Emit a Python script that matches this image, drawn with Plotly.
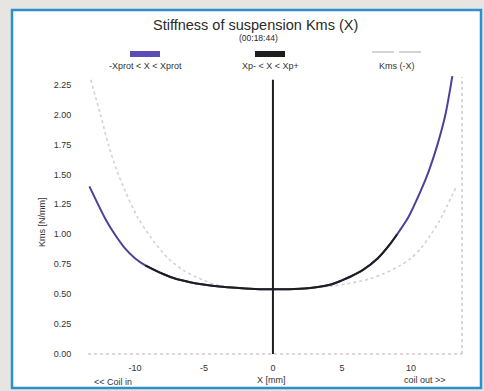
import plotly.graph_objects as go

# Stiffness of suspension Kms(X), measured over the full excursion range
x_mm = [-13.3, -12.1, -11.4, -10.7, -10.0, -9.25, -8.0, -7.1, -6.0, -5.3, -4.4, -2.0, 0.0,
        2.0, 3.0, 4.2, 5.0, 5.6, 6.5, 7.6, 8.5, 9.0, 9.8, 10.7, 11.3, 11.9, 12.5, 13.0]
kms = [1.40, 1.12, 0.99, 0.88, 0.80, 0.74, 0.67, 0.63, 0.60, 0.585, 0.57, 0.548, 0.54,
       0.545, 0.555, 0.58, 0.615, 0.645, 0.70, 0.80, 0.92, 1.00, 1.14, 1.36, 1.53, 1.74, 2.00, 2.32]

# Inner working range Xp- < X < Xp+
x_inner = [-9.25, -8.0, -7.1, -6.0, -5.3, -4.4, -2.0, 0.0, 2.0, 3.0, 4.2, 5.0, 5.6, 6.5, 7.6, 8.5, 9.0]
kms_inner = [0.74, 0.67, 0.63, 0.60, 0.585, 0.57, 0.548, 0.54, 0.545, 0.555, 0.58, 0.615, 0.645,
             0.70, 0.80, 0.92, 1.00]

# Kms(-X): stiffness with the excursion mirrored
x_mirror = [-13.2, -12.5, -11.9, -11.3, -10.7, -9.8, -9.0, -8.5, -7.6, -6.5, -5.6, -5.0, -4.2,
            -3.0, -2.0, 0.0, 2.0, 4.4, 5.3, 6.0, 7.1, 8.0, 9.25, 10.0, 10.7, 11.4, 12.1, 13.3]
kms_mirror = [2.29, 2.00, 1.74, 1.53, 1.36, 1.14, 1.00, 0.92, 0.80, 0.70, 0.645, 0.615, 0.58,
              0.555, 0.545, 0.54, 0.548, 0.57, 0.585, 0.60, 0.63, 0.67, 0.74, 0.80, 0.88, 0.99, 1.12, 1.40]

# Rest position marker
x_rest = [0, 0]
kms_rest = [0, 2.29]

x_ticks = [-10, -5, 0, 5, 10]
y_ticks = [0, 0.25, 0.5, 0.75, 1.0, 1.25, 1.5, 1.75, 2.0, 2.25]

X_RANGE = [-13.4, 13.7]
Y_RANGE = [0, 2.33]

BLUE = "#4a4299"
BLUE_SWATCH = "#5a4db5"
BLACK = "#1e1e1e"
GREY = "#d2d2d2"
FONT = "Liberation Sans, Arial, sans-serif"
TXT = "#333333"

fig = go.Figure()
fig.add_trace(go.Scatter(x=x_mirror, y=kms_mirror, mode="lines",
                         line=dict(color=GREY, width=1.6, dash="dot", shape="spline", smoothing=0.8),
                         showlegend=False, hoverinfo="skip"))
fig.add_trace(go.Scatter(x=x_mm, y=kms, mode="lines",
                         line=dict(color=BLUE, width=2, shape="spline", smoothing=0.8),
                         showlegend=False))
fig.add_trace(go.Scatter(x=x_inner, y=kms_inner, mode="lines",
                         line=dict(color=BLACK, width=2, shape="spline", smoothing=0.8),
                         showlegend=False))
fig.add_trace(go.Scatter(x=x_rest, y=kms_rest, mode="lines",
                         line=dict(color=BLACK, width=2),
                         showlegend=False))

W, H = 484, 391
L, R, T, B = 88, 22, 75, 37
pw, ph = W - L - R, H - T - B


def px(xp):
    return (xp - L) / pw


def py(yp):
    return (H - B - yp) / ph


shapes = [
    # white panel with blue frame
    dict(type="rect", xref="paper", yref="paper", x0=px(12), x1=px(481), y0=py(388), y1=py(10),
         fillcolor="white", line=dict(color="#2e8fd0", width=2.5), layer="below"),
    # dotted frame on bottom and right
    dict(type="line", xref="paper", yref="paper", x0=0, x1=1, y0=0, y1=0,
         line=dict(color="#d4c9cc", width=1.5, dash="dot")),
    dict(type="line", xref="paper", yref="paper", x0=1, x1=1, y0=0, y1=py(77),
         line=dict(color="#cccccc", width=1.5, dash="dot")),
    # legend swatches
    dict(type="rect", xref="paper", yref="paper", x0=px(130), x1=px(160), y0=py(57), y1=py(51),
         fillcolor=BLUE_SWATCH, line=dict(width=0)),
    dict(type="rect", xref="paper", yref="paper", x0=px(255), x1=px(285), y0=py(57), y1=py(51),
         fillcolor=BLACK, line=dict(width=0)),
    dict(type="line", xref="paper", yref="paper", x0=px(372), x1=px(394), y0=py(52), y1=py(52),
         line=dict(color="#b8b8b8", width=1.2)),
    dict(type="line", xref="paper", yref="paper", x0=px(399), x1=px(421), y0=py(52), y1=py(52),
         line=dict(color="#b8b8b8", width=1.2)),
]


def note(text, xp, yp, size, color=TXT, angle=0, xanchor="center"):
    return dict(text=text, xref="paper", yref="paper", x=px(xp), y=py(yp),
                xanchor=xanchor, yanchor="middle", showarrow=False, textangle=angle,
                font=dict(family=FONT, size=size, color=color))


annotations = [
    note("Stiffness of suspension Kms (X)", 255, 25, 14.5, "#2a2a2a"),
    note("(00:18:44)", 258, 38, 8.5, "#2a2a2a"),
    note("-Xprot &lt; X &lt; Xprot", 145, 66, 9),
    note("Xp- &lt; X &lt; Xp+", 270, 66, 9),
    note("Kms (-X)", 397, 66, 9),
    note("X [mm]", 271, 380, 9),
    note("&lt;&lt; Coil in", 92, 382, 9, xanchor="left"),
    note("coil out &gt;&gt;", 402, 380, 9, xanchor="left"),
    note("Kms [N/mm]", 42, 222, 9, angle=-90),
]

fig.update_layout(
    width=W, height=H,
    margin=dict(l=L, r=R, t=T, b=B, pad=0),
    paper_bgcolor="#e7e5e1",
    plot_bgcolor="white",
    showlegend=False,
    shapes=shapes,
    annotations=annotations,
    xaxis=dict(range=X_RANGE, tickvals=x_ticks, ticktext=[str(v) for v in x_ticks],
               showgrid=False, zeroline=False, showline=False,
               ticks="outside", ticklen=5, tickcolor="rgba(0,0,0,0)",
               tickfont=dict(family=FONT, size=9, color=TXT)),
    yaxis=dict(range=Y_RANGE, tickvals=y_ticks, ticktext=[f"{v:.2f}" for v in y_ticks],
               showgrid=False, zeroline=False, showline=False,
               ticks="outside", ticklen=14, tickcolor="rgba(0,0,0,0)",
               tickfont=dict(family=FONT, size=9, color=TXT)),
)

fig.write_html("out.html")
